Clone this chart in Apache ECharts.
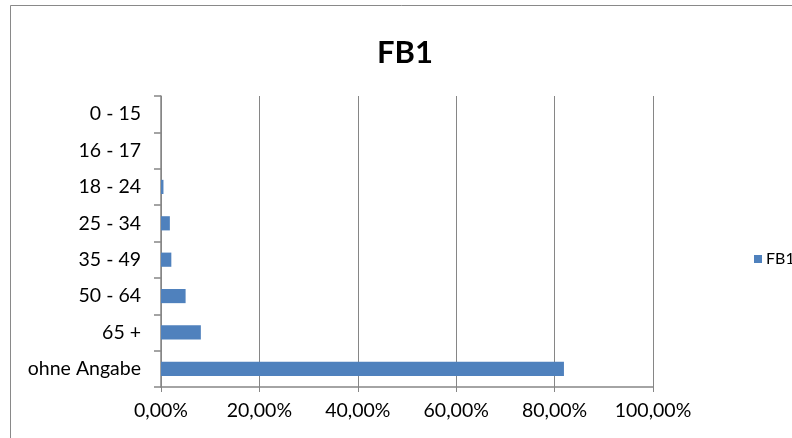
<!DOCTYPE html>
<html>
<head>
<meta charset="utf-8">
<script src="https://cdn.jsdelivr.net/npm/echarts@6/dist/echarts.min.js"></script>
<style>
html,body{margin:0;padding:0;background:#fff;}
#chart{width:792px;height:438px;}
</style>
</head>
<body>
<div id="chart"></div>
<script>
const categories = ['0 - 15', '16 - 17', '18 - 24', '25 - 34', '35 - 49', '50 - 64', '65 +', 'ohne Angabe'];
const seriesName = 'FB1';
const values = [0, 0, 0.005, 0.018, 0.021, 0.05, 0.081, 0.819];
const xTicks = [0, 0.2, 0.4, 0.6, 0.8, 1.0];

const chart = echarts.init(document.getElementById('chart'));
const fmt = v => (v * 100).toFixed(2).replace('.', ',') + '%';
chart.setOption({
  animation: false,
  backgroundColor: '#fff',
  title: {
    text: 'FB1', left: 400, top: 32, textAlign: 'center',
    textStyle: { fontFamily: 'Lato', fontWeight: 'bold', fontSize: 31, color: '#000' }
  },
  graphic: [{
    type: 'rect', shape: { x: 10.5, y: 5.5, width: 800, height: 460 },
    style: { fill: 'none', stroke: '#898989', lineWidth: 1 }, silent: true
  }],
  legend: {
    data: [seriesName], left: 754, top: 251, padding: 0, icon: 'rect', itemWidth: 8, itemHeight: 8, itemGap: 4,
    textStyle: { fontFamily: 'Lato', fontSize: 16, color: '#000', padding: [0, 0, 0, -1] }
  },
  grid: { left: 161, right: 139, top: 96, bottom: 51, containLabel: false },
  xAxis: {
    type: 'value', min: xTicks[0], max: xTicks[xTicks.length - 1], interval: 0.2,
    axisLine: { show: true, lineStyle: { color: '#868686', width: 1.5 } },
    axisTick: { show: true, length: 5, lineStyle: { color: '#868686' } },
    splitLine: { show: true, lineStyle: { color: '#868686', width: 1 } },
    axisLabel: { formatter: fmt, margin: 14, fontFamily: 'Lato', fontSize: 19.5, color: '#000' }
  },
  yAxis: {
    type: 'category', data: categories, inverse: true,
    axisLine: { show: true, lineStyle: { color: '#868686', width: 1.5 } },
    axisTick: { show: true, length: 7, lineStyle: { color: '#868686', width: 1.5 } },
    axisLabel: { margin: 20, fontFamily: 'Lato', fontSize: 19.5, color: '#000' }
  },
  series: [{
    name: seriesName, type: 'bar', data: values, barWidth: '39%',
    itemStyle: { color: '#4f81bd' }
  }]
});
</script>
</body>
</html>
